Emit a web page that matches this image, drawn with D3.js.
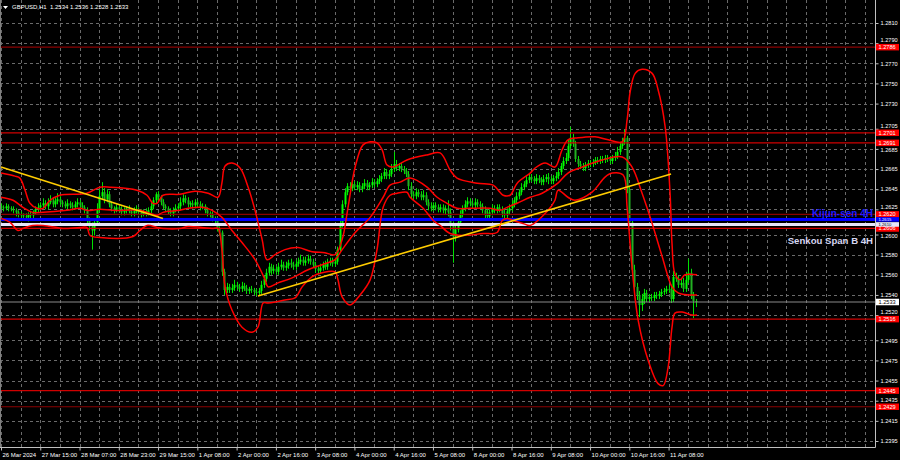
<!DOCTYPE html>
<html><head><meta charset="utf-8">
<script src="https://cdn.jsdelivr.net/npm/d3@7"></script>
<style>body{margin:0;background:#000;overflow:hidden}svg{display:block}</style>
</head><body>
<svg id="c" width="900" height="460"></svg>
<script>
// ---------------- DATA ----------------
const chartTitle = "GBPUSD,H1  1.2534 1.2536 1.2528 1.2533";
const pipBase = 1.2500;          // prices below are pips above this base
const pipSize = 0.0001;
const firstOpen = 128;
const closes = [
127,126,128,126,125,124,122,120,119,118,
117,120,119,122,125,127,129,131,128,132,
134,130,133,135,132,130,128,131,129,127,
130,132,129,127,124,115,108,104,112,125,
138,142,135,140,130,126,124,127,125,122,
124,126,123,121,124,125,122,120,123,121,
124,128,134,140,137,132,128,126,123,121,
124,126,128,132,136,134,130,131,129,132,
130,127,128,124,121,120,116,114,106,102,
63,45,48,45,47,50,48,46,49,47,
44,46,45,43,42,44,50,56,62,68,
64,66,63,68,70,67,69,72,70,68,
71,73,75,72,74,76,73,70,66,64,
67,70,68,72,74,71,73,85,110,130,
142,148,146,150,147,149,145,148,151,147,
149,152,150,153,155,158,162,158,160,165,
170,166,168,165,163,160,148,140,138,142,
140,137,139,132,128,126,129,127,125,127,
124,126,122,110,98,105,112,120,126,130,
133,131,129,132,130,128,124,120,118,122,
126,124,127,125,121,119,123,126,130,134,
138,142,147,150,154,157,155,153,156,154,
152,155,157,155,153,156,158,162,168,173,
176,188,196,190,175,170,168,166,169,171,
170,172,174,173,175,174,176,175,173,176,
178,182,188,192,196,145,112,65,48,40,
30,36,42,36,38,37,40,39,41,43,
44,46,45,36,58,56,50,52,46,55,
62,40,34,33];
const upWick = [
3,2,3,2,2,3,2,2,3,2, 3,2,3,2,3,4,3,5,3,4, 5,3,4,6,3,2,3,4,2,3, 3,4,2,3,2,3,2,4,3,6,
7,10,4,5,3,3,2,3,2,3, 3,2,3,2,3,4,2,3,2,3, 3,4,3,2,3,2,3,2,2,3, 3,4,3,5,4,3,3,2,3,3,
2,3,3,2,3,2,3,2,3,2, 2,3,4,3,4,5,3,3,4,3, 3,2,3,2,3,3,4,3,4,4, 3,4,3,4,5,3,4,3,4,3,
4,4,5,3,4,4,3,3,3,3, 4,3,4,4,3,3,4,3,5,4, 4,3,4,3,3,4,3,3,4,3, 3,4,3,3,4,3,4,3,4,5,
12,4,3,3,3,3,3,4,3,4, 3,3,5,3,3,4,3,3,3,3, 3,3,8,4,3,4,3,4,3,4, 4,3,3,4,3,3,3,4,5,3,
4,3,3,3,3,4,3,4,4,3, 4,3,4,3,4,4,3,3,4,3, 3,4,3,4,3,3,4,4,3,4, 5,6,11,4,3,3,3,3,3,3,
3,3,3,3,3,3,3,3,3,3, 4,5,4,4,8,2,3,4,5,4, 4,5,4,3,3,3,3,3,3,3, 3,3,4,5,6,4,3,4,5,8,
14,4,3,2];
const dnWick = [
2,3,2,3,2,3,4,3,3,4, 3,4,3,3,2,3,2,3,3,3, 2,3,3,3,3,3,2,3,3,3, 2,3,3,2,3,4,4,19,5,3,
3,3,4,3,3,3,3,2,3,3, 3,3,2,3,3,3,3,3,2,3, 2,3,3,3,3,3,3,3,3,3, 3,2,3,3,3,3,3,3,3,3,
3,3,2,3,3,3,3,3,3,3, 4,5,3,3,3,3,3,3,3,3, 3,3,3,3,3,3,3,3,3,3, 4,3,3,3,3,3,3,3,3,3,
3,3,3,3,3,3,3,3,4,3, 3,3,3,3,3,3,3,3,3,3, 3,3,3,3,3,3,3,3,3,3, 3,3,3,3,3,3,3,3,3,3,
3,3,3,3,3,3,4,4,3,3, 3,3,3,3,4,3,3,3,3,3, 3,4,4,6,26,5,3,3,3,3, 3,3,3,3,3,3,3,5,4,3,
3,3,3,3,4,5,3,3,3,3, 3,3,3,3,3,3,3,3,3,3, 3,3,3,5,3,3,3,3,3,3, 3,3,3,3,3,3,3,3,3,3,
3,3,3,3,3,3,3,3,3,3, 3,3,3,3,3,4,4,5,6,5, 12,6,5,3,3,3,3,3,3,3, 3,3,3,4,3,3,3,3,3,3,
3,4,17,5];
const timeLabels = ["26 Mar 2024","27 Mar 15:00","28 Mar 07:00","28 Mar 23:00","29 Mar 15:00",
  "1 Apr 08:00","2 Apr 00:00","2 Apr 16:00","3 Apr 08:00","4 Apr 00:00","4 Apr 16:00",
  "5 Apr 08:00","8 Apr 00:00","8 Apr 16:00","9 Apr 08:00","10 Apr 00:00","10 Apr 16:00","11 Apr 08:00"];
const timeLabelBars = [0,16,32,48,64,80,96,112,128,144,160,176,192,208,224,240,256,272];
const gridBars = [0,8,16,24,32,40,48,56,64,72,80,88,96,104,112,120,128,136,144,152,160,168,176,184,
  192,200,208,216,224,232,240,248,256,264,272,280,288,296,304,312,320,328,336,344,352];
const priceTicks = [1.2810,1.2790,1.2770,1.2750,1.2730,1.2705,1.2685,1.2665,1.2645,1.2625,1.2600,
  1.2580,1.2560,1.2540,1.2520,1.2495,1.2475,1.2455,1.2435,1.2415,1.2395];
const brightLevels = [1.2701,1.2691,1.2606,1.2516,1.2445];
const darkLevels = [1.2786,1.2620,1.2429];
const kijunLevel = 1.2615;
const senkouBLevel = 1.2610;
const lastPrice = 1.2533;
const upperBand = [[0,1.2661],[5.7,1.2658],[7.7,1.2656],[9.8,1.2644],[11.8,1.2631],[14.7,1.2626],[17.1,1.2626],[20,1.2634],[24,1.2639],[35,1.2641],[40.3,1.2647],[44.4,1.2647],[55.4,1.2644],[59.5,1.2639],[61.9,1.2631],[63.6,1.2631],[66,1.2639],[72.9,1.2640],[79,1.2643],[84.4,1.2641],[88.4,1.2637],[90,1.2651],[91.3,1.2668],[94.1,1.2671],[97.4,1.2666],[100.7,1.2647],[103.5,1.2624],[106.4,1.2595],[108.4,1.2575],[111.7,1.2580],[115.7,1.2585],[121,1.2587],[126.7,1.2583],[132,1.2582],[136.1,1.2580],[139,1.2595],[141.4,1.2627],[144.3,1.2667],[147.5,1.2689],[150.4,1.2692],[153.2,1.2691],[155.3,1.2684],[157.3,1.2669],[159.7,1.2667],[165.4,1.2674],[173.6,1.2679],[178.9,1.2681],[183,1.2664],[185.8,1.2656],[194,1.2651],[200.5,1.2649],[203.3,1.2642],[204.6,1.2639],[207.4,1.2639],[210.3,1.2651],[215.6,1.2661],[217.6,1.2666],[221.7,1.2671],[225.7,1.2667],[228.6,1.2684],[231,1.2694],[235.1,1.2696],[242,1.2697],[247.4,1.2694],[253.1,1.2692],[255.1,1.2714],[256.3,1.2741],[258.4,1.2760],[261.2,1.2764],[265.3,1.2760],[267.7,1.2744],[270.6,1.2707],[272.6,1.2641],[273.4,1.2591],[274.6,1.2561],[276.7,1.2555],[278.7,1.2560],[283.6,1.2560]];
const middleBand = [[0,1.2637],[4.9,1.2634],[8.9,1.2627],[13,1.2622],[17.1,1.2622],[26.9,1.2624],[32.2,1.2626],[35,1.2624],[40.3,1.2625],[45.6,1.2624],[56.6,1.2624],[60.7,1.2621],[63.6,1.2619],[66,1.2622],[72.9,1.2624],[76.2,1.2626],[81.9,1.2627],[86,1.2624],[90,1.2617],[94.1,1.2604],[98.2,1.2592],[103.5,1.2575],[107.6,1.2555],[108.8,1.2548],[112.9,1.2552],[118.6,1.2557],[125.1,1.2565],[130.8,1.2570],[136.1,1.2575],[139,1.2585],[144.3,1.2602],[150.4,1.2617],[155.7,1.2637],[158.5,1.2649],[162.6,1.2652],[166.7,1.2656],[173.6,1.2647],[177.7,1.2637],[181.7,1.2631],[185.8,1.2626],[191.1,1.2626],[199.3,1.2626],[203.3,1.2624],[206.2,1.2627],[210.3,1.2631],[215.6,1.2637],[220.5,1.2641],[226.9,1.2651],[231,1.2661],[236.8,1.2667],[244.9,1.2674],[253.1,1.2677],[257.1,1.2667],[261.2,1.2641],[265.3,1.2611],[269.4,1.2578],[273.4,1.2548],[275.9,1.2542],[279.9,1.2540],[283.6,1.2540]];
const lowerBandBars = [0,3.7,6.9,8.9,13,17.1,22.8,25.3,32.2,35,36.3,40.3,53.8,56.6,59.5,63.6,66,72.9,76.2,81.9,86,88.4,90,91.3,94.1,98.2,102.3,104.7,106.8,108.8,111.7,115.7,119.8,122.7,126.7,130.8,136.1,137.3,139,142.2,146.3,150.4,153.2,155.7,158.5,161.4,165.4,166.7,172,176.1,178.9,183,188.3,196.4,202.1,204.2,206.2,208.6,212.7,215.6,222.9,225.7,227,231,233.9,240.8,246.1,249,253.5,255.1,257.1,259.6,263.7,267.7,269.8,271.8,273.4,274.6,277.5,281.6,283.6];
const lowerBandPrices = [1.2616,1.2612,1.2604,1.2606,1.2609,1.2609,1.2607,1.2606,1.2607,1.2607,1.2599,1.2597,1.2598,1.2604,1.2609,1.2607,1.2606,1.2606,1.2608,1.2607,1.2606,1.2606,1.2585,1.2548,1.2525,1.2508,1.2503,1.2508,1.2532,1.2532,1.2533,1.2535,1.2537,1.2548,1.2558,1.2562,1.2563,1.2555,1.2538,1.2530,1.2540,1.2555,1.2585,1.2627,1.2639,1.2641,1.2642,1.2637,1.2626,1.2614,1.2609,1.2601,1.2599,1.2601,1.2602,1.2614,1.2616,1.2614,1.2611,1.2609,1.2624,1.2634,1.2644,1.2637,1.2634,1.2642,1.2657,1.2661,1.2659,1.2627,1.2568,1.2515,1.2475,1.2452,1.2450,1.2468,1.2508,1.2522,1.2523,1.2520,1.2520];
const trendLineA = [[0,1.2667],[66,1.2616]];
const trendLineB = [[104.7,1.2539],[273,1.2660]];
const kijunText = "Kijun-sen 4H";
const senkouText = "Senkou Span B 4H";

// ---------------- SCALES ----------------
const W = 900, H = 460, plotR = 875, plotB = 447;
const x = d3.scaleLinear().domain([0, 356.1]).range([1, plotR]);
const y = d3.scaleLinear().domain([1.2810, 1.2395]).range([23, 441]);
const P = v => pipBase + v * pipSize;
const fmt = d3.format(".4f");

const svg = d3.select("#c");
svg.append("rect").attr("width", W).attr("height", H).attr("fill", "#000");
svg.append("defs").append("clipPath").attr("id", "clip")
  .append("rect").attr("x", 0).attr("y", 0).attr("width", plotR).attr("height", plotB);
const plot = svg.append("g").attr("clip-path", "url(#clip)");
const font = "'Liberation Sans', Arial, sans-serif";

// grid
plot.append("g").selectAll("line").data(priceTicks).join("line")
  .attr("x1", 0).attr("x2", plotR)
  .attr("y1", d => Math.round(y(d)) + 0.5).attr("y2", d => Math.round(y(d)) + 0.5)
  .attr("stroke", "#6a6a6a").attr("stroke-dasharray", "3,3");
plot.append("g").selectAll("line").data(gridBars).join("line")
  .attr("y1", 0).attr("y2", plotB)
  .attr("x1", d => Math.round(x(d)) + 0.5).attr("x2", d => Math.round(x(d)) + 0.5)
  .attr("stroke", "#6a6a6a").attr("stroke-dasharray", "3,3");

// candles
const bars = closes.map((c, i) => {
  const o = i === 0 ? firstOpen : closes[i - 1];
  return {i, o, c, hi: Math.max(o, c) + upWick[i], lo: Math.min(o, c) - dnWick[i]};
});
const cg = plot.append("g");
cg.selectAll("line").data(bars).join("line")
  .attr("x1", d => Math.round(x(d.i)) + 0.5).attr("x2", d => Math.round(x(d.i)) + 0.5)
  .attr("y1", d => y(P(d.hi))).attr("y2", d => y(P(d.lo)))
  .attr("stroke", "#00e000").attr("stroke-width", 1);
cg.selectAll("rect").data(bars).join("rect")
  .attr("x", d => Math.round(x(d.i)) - 0.5).attr("width", 2)
  .attr("y", d => y(P(Math.max(d.o, d.c))))
  .attr("height", d => Math.max(1, y(P(Math.min(d.o, d.c))) - y(P(Math.max(d.o, d.c)))))
  .attr("fill", d => d.c >= d.o ? "#00ff00" : "#22b022");

// horizontal levels
plot.append("g").selectAll("line").data(darkLevels).join("line")
  .attr("x1", 0).attr("x2", plotR).attr("y1", d => y(d)).attr("y2", d => y(d))
  .attr("stroke", "#8b0000").attr("stroke-width", 1.2);
plot.append("g").selectAll("line").data(brightLevels).join("line")
  .attr("x1", 0).attr("x2", plotR).attr("y1", d => y(d)).attr("y2", d => y(d))
  .attr("stroke", "#d00000").attr("stroke-width", 1.2);
plot.append("line").attr("x1", 0).attr("x2", plotR)
  .attr("y1", y(lastPrice)).attr("y2", y(lastPrice)).attr("stroke", "#8a8a8a");
plot.append("line").attr("x1", 0).attr("x2", plotR)
  .attr("y1", y(senkouBLevel)).attr("y2", y(senkouBLevel)).attr("stroke", "#e6e6fa").attr("stroke-width", 3);
plot.append("line").attr("x1", 0).attr("x2", plotR)
  .attr("y1", y(kijunLevel)).attr("y2", y(kijunLevel)).attr("stroke", "#0000ff").attr("stroke-width", 3);

// bands
const bandLine = d3.line().x(d => x(d[0])).y(d => y(d[1])).curve(d3.curveCatmullRom.alpha(0.5));
const lowerBand = lowerBandBars.map((b, i) => [b, lowerBandPrices[i]]);
[upperBand, middleBand, lowerBand].forEach(b => {
  plot.append("path").attr("d", bandLine(b)).attr("fill", "none")
    .attr("stroke", "#ff0000").attr("stroke-width", 1.5);
});

// trend lines
const tl = d3.line().x(d => x(d[0])).y(d => y(d[1]));
[trendLineA, trendLineB].forEach(t => {
  plot.append("path").attr("d", tl(t)).attr("stroke", "#ffcc00").attr("stroke-width", 1.6).attr("fill", "none");
});

// line names
plot.append("text").attr("x", 873).attr("y", 216.5).attr("text-anchor", "end")
  .attr("font-family", font).attr("font-weight", "bold").attr("font-size", 10)
  .attr("fill", "#1c1cff").text(kijunText);
plot.append("text").attr("x", 873).attr("y", 244).attr("text-anchor", "end")
  .attr("font-family", font).attr("font-weight", "bold").attr("font-size", 9.6)
  .attr("fill", "#d6d6f0").text(senkouText);

// borders
svg.append("line").attr("x1", plotR + 0.5).attr("x2", plotR + 0.5).attr("y1", 0).attr("y2", plotB + 0.5).attr("stroke", "#c0c0c0");
svg.append("line").attr("x1", 0).attr("x2", plotR + 0.5).attr("y1", plotB + 0.5).attr("y2", plotB + 0.5).attr("stroke", "#c0c0c0");
svg.append("line").attr("x1", 0.5).attr("x2", 0.5).attr("y1", 0).attr("y2", plotB).attr("stroke", "#808080");

// price tags (levels), computed first so axis labels can step aside
const tags = [];
darkLevels.concat(brightLevels).forEach(v => tags.push({v, bg: "#ff0000", fg: "#ffffff", fs: 5.6, h: 6.5}));
tags.push({v: kijunLevel, bg: "#0000ff", fg: "#ffffff", fs: 4.2, h: 4.6});
tags.push({v: senkouBLevel, bg: "#e6e6fa", fg: "#000000", fs: 4.2, h: 4.6});
tags.push({v: lastPrice, bg: "#ffffff", fg: "#000000", fs: 5.6, h: 6.5});

// right axis
const yAxis = d3.axisRight(y).tickValues(priceTicks).tickFormat(fmt).tickSize(3).tickPadding(2);
const ya = svg.append("g").attr("transform", `translate(${plotR + 0.5},0)`).call(yAxis);
ya.select(".domain").remove();
ya.selectAll("line").attr("stroke", "#c0c0c0");
ya.selectAll("text").attr("fill", "#fff").attr("font-family", font).attr("font-size", 5.6)
  .attr("dy", d => {
    let shift = 0;
    tags.forEach(t => {
      const dist = y(d) - y(t.v);
      if (Math.abs(dist) < 7.2) shift = (dist < 0 ? -1 : 1) * (7.2 - Math.abs(dist));
    });
    return (0.32 * 5.6 + shift) + "px";
  });

// bottom axis
const xAxis = d3.axisBottom(x).tickValues(timeLabelBars).tickFormat((d, i) => timeLabels[i]).tickSize(3).tickPadding(2);
const xa = svg.append("g").attr("transform", `translate(0,${plotB + 0.5})`).call(xAxis);
xa.select(".domain").remove();
xa.selectAll("line").attr("stroke", "#c0c0c0");
xa.selectAll("text").attr("fill", "#fff").attr("font-family", font).attr("font-size", 6)
  .attr("text-anchor", "start").attr("dx", 1);

// draw tags
tags.forEach(t => {
  const g = svg.append("g");
  g.append("rect").attr("x", plotR + 1).attr("y", y(t.v) - t.h / 2).attr("width", 23).attr("height", t.h).attr("fill", t.bg);
  g.append("text").attr("x", plotR + 3.5).attr("y", y(t.v) + t.fs * 0.36).attr("fill", t.fg)
    .attr("font-family", font).attr("font-size", t.fs).text(fmt(t.v));
});

// title
svg.append("path").attr("d", "M3,6 L8,6 L5.5,9 Z").attr("fill", "#fff");
svg.append("text").attr("x", 12).attr("y", 9).attr("fill", "#fff")
  .attr("font-family", font).attr("font-size", 6).attr("xml:space", "preserve").text(chartTitle);
</script>
</body></html>
